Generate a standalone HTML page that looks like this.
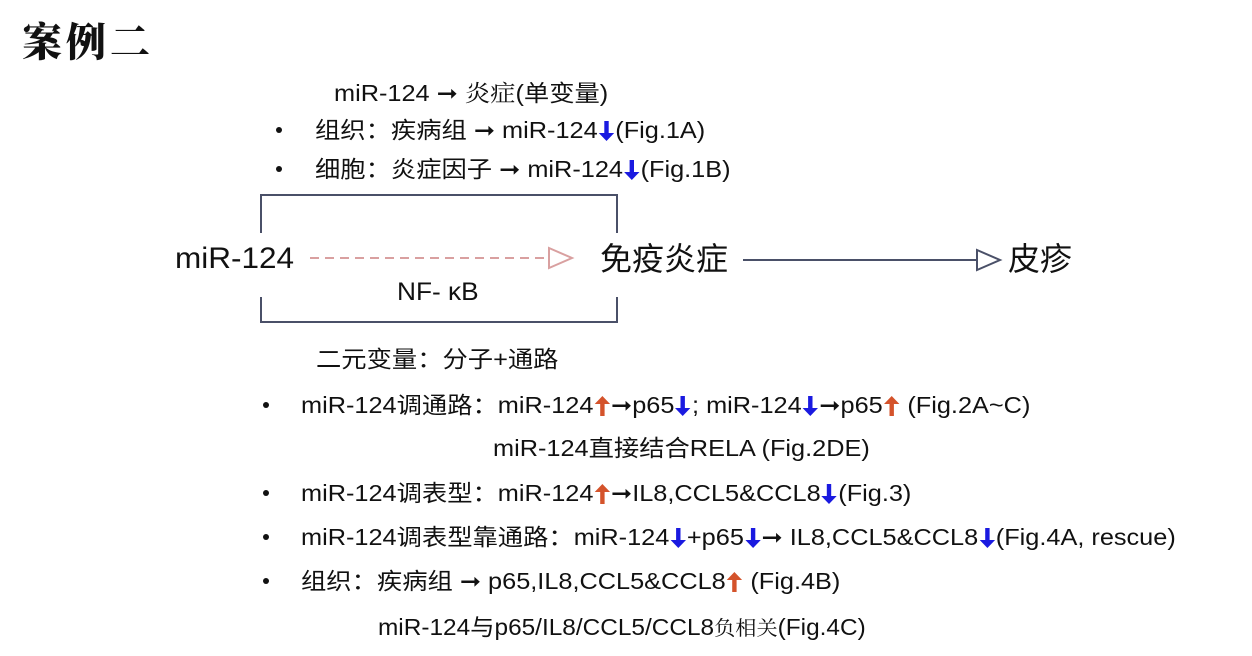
<!DOCTYPE html>
<html><head><meta charset="utf-8"><style>
body{margin:0;width:1252px;height:656px;background:#fff;position:relative;overflow:hidden;font-family:"Liberation Sans","Noto Sans CJK SC",sans-serif;color:#111}
.t{position:absolute;white-space:nowrap;font-size:23px;line-height:26px;transform-origin:0 50%;transform:scaleX(1.1)}
.b{position:absolute;width:6px;height:6px;border-radius:50%;background:#111}
svg.a{vertical-align:-3px;margin:0 1px}
</style></head><body>
<div class="t" style="left:22px;top:16px;font-size:40px;line-height:48px;font-family:'Noto Serif CJK SC',serif;font-weight:900;letter-spacing:4px;transform:none">案例二</div>

<div class="t" style="left:334px;top:79px">miR-124 ➞ <span style="font-family:'Noto Serif CJK SC',serif">炎症</span>(单变量)</div>
<div class="b" style="left:276px;top:127px"></div>
<div class="t" style="left:315px;top:117px">组织：疾病组 ➞ miR-124<svg class="a" width="14" height="20" viewBox="0 0 14 20"><path d="M5 0h4v12h5l-7 8-7-8h5z" fill="#1a1ae0"/></svg>(Fig.1A)</div>
<div class="b" style="left:276px;top:166px"></div>
<div class="t" style="left:315px;top:156px">细胞：炎症因子 ➞ miR-124<svg class="a" width="14" height="20" viewBox="0 0 14 20"><path d="M5 0h4v12h5l-7 8-7-8h5z" fill="#1a1ae0"/></svg>(Fig.1B)</div>

<svg style="position:absolute;left:0;top:0" width="1252" height="656">
<path d="M261 233V195H617V233" fill="none" stroke="#4a5068" stroke-width="2"/>
<path d="M261 297V322H617V297" fill="none" stroke="#4a5068" stroke-width="2"/>
<line x1="310" y1="258" x2="548" y2="258" stroke="#d9a0a0" stroke-width="2" stroke-dasharray="9,6"/>
<path d="M549 248L572 258L549 268Z" fill="#fff" stroke="#d9a0a0" stroke-width="2"/>
<line x1="743" y1="260" x2="977" y2="260" stroke="#4a5068" stroke-width="2"/>
<path d="M977 250L1000 260L977 270Z" fill="#fff" stroke="#4a5068" stroke-width="2"/>
</svg>
<div class="t" style="left:175px;top:241px;font-size:30px;line-height:36px;transform:scaleX(1.05)">miR-124</div>
<div class="t" style="left:600px;top:241px;font-size:32px;line-height:36px;transform:none">免疫炎症</div>
<div class="t" style="left:1008px;top:241px;font-size:32px;line-height:36px;transform:none">皮疹</div>
<div class="t" style="left:397px;top:277px;font-size:25px;line-height:30px;transform:scaleX(1.05)">NF- κB</div>

<div class="t" style="left:316px;top:346px">二元变量：分子+通路</div>
<div class="b" style="left:263px;top:402px"></div>
<div class="t" style="left:301px;top:392px">miR-124调通路：miR-124<svg class="a" width="14" height="20" viewBox="0 0 14 20"><path d="M5 20h4V8h5L7 0 0 8h5z" fill="#d4532b"/></svg>➞p65<svg class="a" width="14" height="20" viewBox="0 0 14 20"><path d="M5 0h4v12h5l-7 8-7-8h5z" fill="#1a1ae0"/></svg>; miR-124<svg class="a" width="14" height="20" viewBox="0 0 14 20"><path d="M5 0h4v12h5l-7 8-7-8h5z" fill="#1a1ae0"/></svg>➞p65<svg class="a" width="14" height="20" viewBox="0 0 14 20"><path d="M5 20h4V8h5L7 0 0 8h5z" fill="#d4532b"/></svg> (Fig.2A~C)</div>
<div class="t" style="left:493px;top:435px">miR-124直接结合RELA (Fig.2DE)</div>
<div class="b" style="left:263px;top:490px"></div>
<div class="t" style="left:301px;top:480px">miR-124调表型：miR-124<svg class="a" width="14" height="20" viewBox="0 0 14 20"><path d="M5 20h4V8h5L7 0 0 8h5z" fill="#d4532b"/></svg>➞IL8,CCL5&amp;CCL8<svg class="a" width="14" height="20" viewBox="0 0 14 20"><path d="M5 0h4v12h5l-7 8-7-8h5z" fill="#1a1ae0"/></svg>(Fig.3)</div>
<div class="b" style="left:263px;top:534px"></div>
<div class="t" style="left:301px;top:524px">miR-124调表型靠通路：miR-124<svg class="a" width="14" height="20" viewBox="0 0 14 20"><path d="M5 0h4v12h5l-7 8-7-8h5z" fill="#1a1ae0"/></svg>+p65<svg class="a" width="14" height="20" viewBox="0 0 14 20"><path d="M5 0h4v12h5l-7 8-7-8h5z" fill="#1a1ae0"/></svg>➞ IL8,CCL5&amp;CCL8<svg class="a" width="14" height="20" viewBox="0 0 14 20"><path d="M5 0h4v12h5l-7 8-7-8h5z" fill="#1a1ae0"/></svg>(Fig.4A, rescue)</div>
<div class="b" style="left:263px;top:578px"></div>
<div class="t" style="left:301px;top:568px">组织：疾病组 ➞ p65,IL8,CCL5&amp;CCL8<svg class="a" width="14" height="20" viewBox="0 0 14 20"><path d="M5 20h4V8h5L7 0 0 8h5z" fill="#d4532b"/></svg> (Fig.4B)</div>
<div class="t" style="left:378px;top:614px;transform:scaleX(1.06)">miR-124与p65/IL8/CCL5/CCL8<span style="font-family:'Noto Serif CJK SC',serif;font-size:20px">负相关</span>(Fig.4C)</div>
</body></html>
